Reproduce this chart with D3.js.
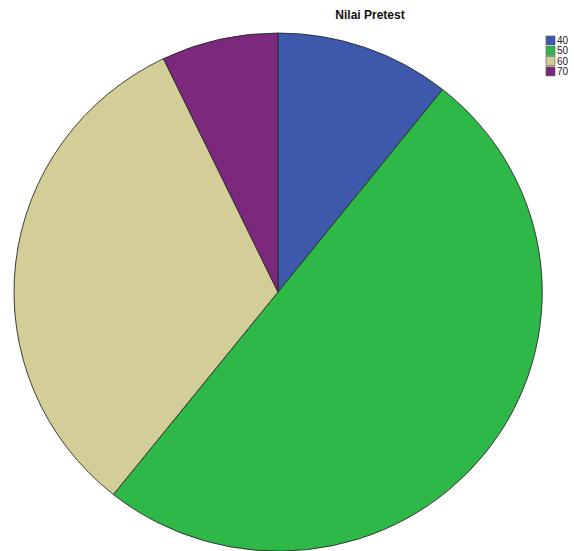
<!DOCTYPE html>
<html>
<head>
<meta charset="utf-8">
<script src="https://cdn.jsdelivr.net/npm/d3@7/dist/d3.min.js"></script>
<style>
  html, body { margin: 0; padding: 0; background: #fff; }
  svg { display: block; }
</style>
</head>
<body>
<svg id="chart" width="574" height="551"></svg>
<script>
// Pretest score categories and respondent counts
const categories = ["40", "50", "60", "70"];
const counts = [3, 14, 9, 2];
const colors = ["#3e58ac", "#2eb848", "#d3ce97", "#7c287d"];
const title = "Nilai Pretest";

const svg = d3.select("#chart");
const cx = 278, cy = 292, ry = 259, rx = 264;

const data = categories.map((c, i) => ({ label: c, value: counts[i] }));
const pie = d3.pie().value(d => d.value).sort(null);
const arc = d3.arc().innerRadius(0).outerRadius(ry);
const color = d3.scaleOrdinal().domain(categories).range(colors);

const g = svg.append("g")
  .attr("transform", `translate(${cx},${cy}) scale(${rx / ry},1)`);

g.selectAll("path")
  .data(pie(data))
  .join("path")
  .attr("d", arc)
  .attr("fill", d => color(d.data.label))
  .attr("stroke", "#2a2a2a")
  .attr("stroke-width", 0.9)
  .attr("vector-effect", "non-scaling-stroke");

svg.append("text")
  .attr("x", 370)
  .attr("y", 19)
  .attr("text-anchor", "middle")
  .attr("font-family", "Liberation Sans, Arial, sans-serif")
  .attr("font-weight", "bold")
  .attr("font-size", 12)
  .attr("fill", "#111")
  .text(title);

// Legend
const legend = svg.append("g").attr("transform", "translate(546,36)");
const item = legend.selectAll("g")
  .data(categories)
  .join("g")
  .attr("transform", (d, i) => `translate(0,${i * 10.3})`);
item.append("rect")
  .attr("width", 9)
  .attr("height", 9)
  .attr("fill", d => color(d))
  .attr("stroke", "#555")
  .attr("stroke-width", 0.6);
item.append("text")
  .attr("x", 11)
  .attr("y", 8)
  .attr("font-family", "Liberation Sans, Arial, sans-serif")
  .attr("font-size", 10)
  .attr("fill", "#222")
  .text(d => d);
</script>
</body>
</html>
